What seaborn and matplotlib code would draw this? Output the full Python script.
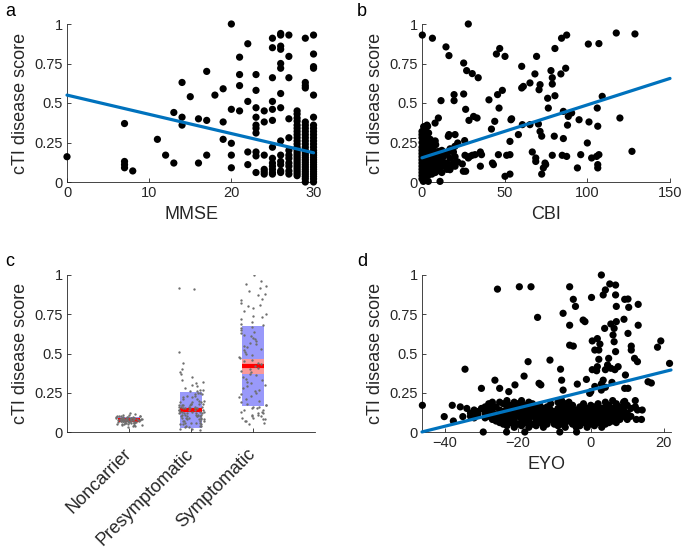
import numpy as np
import pandas as pd
import matplotlib
matplotlib.use("Agg")
import matplotlib.pyplot as plt
import seaborn as sns

# ---------------- data ----------------
# panel a: MMSE vs cTI disease score
mmse = [0, 7, 7, 7, 7, 8, 11, 12, 13, 13, 14, 14, 14, 15, 16, 16, 17, 17, 17, 18,
        19, 19, 19, 20, 20, 20, 20, 20, 21, 21, 21, 21, 22, 22, 22, 22,
        23, 23, 23, 23, 23, 23, 23, 23, 23, 23,
        24, 24, 24, 24, 24, 24,
        25, 25, 25, 25, 25, 25, 25, 25, 25, 25, 25, 25, 25,
        26, 26, 26, 26, 26, 26, 26, 26, 26, 26, 26, 26, 26, 26,
        27, 27, 27, 27, 27, 27, 27, 27, 27, 27, 27, 27,
        28, 28, 28, 28, 28, 28, 28, 28, 28, 28, 28, 28, 28, 28, 28, 28, 28, 28, 28, 28, 28, 28, 28, 28,
        29, 29, 29, 29, 29, 29, 29, 29, 29, 29, 29, 29, 29, 29, 29, 29, 29, 29, 29, 29, 29, 29, 29, 29, 29, 29, 29,
        30, 30, 30, 30, 30, 30, 30, 30, 30, 30, 30, 30, 30, 30, 30, 30, 30, 30, 30, 30, 30, 30, 30, 30, 30, 30, 30, 30]
cti_a = [0.16, 0.37, 0.13, 0.11, 0.09, 0.07, 0.27, 0.17, 0.44, 0.12, 0.63, 0.41, 0.36, 0.54, 0.40, 0.12, 0.70, 0.39, 0.17, 0.55,
         0.59, 0.38, 0.27, 1.00, 0.46, 0.245, 0.17, 0.09, 0.79, 0.68, 0.61, 0.45, 0.875, 0.51, 0.19, 0.11,
         0.68, 0.58, 0.47, 0.41, 0.36, 0.34, 0.31, 0.19, 0.165, 0.06,
         0.45, 0.38, 0.17, 0.08, 0.065, 0.05,
         0.91, 0.85, 0.66, 0.51, 0.46, 0.39, 0.22, 0.15, 0.12, 0.10, 0.08, 0.06, 0.05,
         0.94, 0.93, 0.86, 0.84, 0.75, 0.72, 0.56, 0.47, 0.26, 0.17, 0.13, 0.11, 0.07, 0.06,
         0.93, 0.795, 0.66, 0.40, 0.28, 0.20, 0.17, 0.15, 0.12, 0.10, 0.07, 0.05,
         0.45, 0.43, 0.405, 0.385, 0.36, 0.34, 0.32, 0.30, 0.28, 0.26, 0.24, 0.22, 0.205, 0.19, 0.175, 0.16, 0.145, 0.13, 0.115, 0.10, 0.085, 0.07, 0.055, 0.04,
         0.91, 0.63, 0.61, 0.595, 0.38, 0.36, 0.34, 0.32, 0.30, 0.28, 0.26, 0.24, 0.22, 0.20, 0.185, 0.17, 0.155, 0.14, 0.125, 0.11, 0.095, 0.08, 0.065, 0.05, 0.035, 0.02, 0.0,
         0.93, 0.81, 0.73, 0.72, 0.55, 0.41, 0.36, 0.34, 0.32, 0.30, 0.28, 0.26, 0.24, 0.22, 0.20, 0.185, 0.17, 0.155, 0.14, 0.125, 0.11, 0.095, 0.08, 0.065, 0.05, 0.035, 0.02, 0.0]
fit_a = [0.55, -0.01217]   # intercept, slope
fit_a_range = [0, 30]

# panel b: CBI vs cTI disease score
cbi = [0.2, 6.3, 28, 14.5, 16.3, 25.2, 27, 30.4, 34, 19.4, 19.4, 11.5, 25.2, 26.4, 28.4, 31.2, 33.3, 40.5,
       45, 47, 50.2, 45.7, 48.6, 46.6, 44, 42, 53.8, 54.2, 58.3, 60.7, 60.3, 61.3, 60.3, 65.3, 68.3, 69.3,
       71.4, 70.8, 70.4, 71.4, 72.4, 65.3, 76, 76.4, 78, 78.8, 78.8, 80.4, 80.4, 84.4, 87.5, 84, 86.9,
       85.5, 88.5, 90.5, 88, 80, 85.5, 95, 101, 106.3, 106, 100.6, 107, 109, 117.5, 128.8, 119.7, 127,
       100, 96, 94, 102.6, 105.6, 107, 106.3, 106.3, 84.8, 87.5, 78.8, 74.4, 74.8, 72.4, 73.4, 68.8, 68.8,
       66.7, 53.2, 53.2, 51.2, 53.2, 50.2, 43.2, 42.6, 46.2, 35.3, 36, 35.3, 32.1, 30.4, 29, 28, 26,
       26.4, 25, 24.4, 21.6, 21.6, 25.8, 19.9, 17.9, 15.9, 16.3, 15.9, 18.9, 17.9, 16.9, 10.3, 10.9,
       9.9, 7.9, 1.8, 3.4, 0.8, 2.8, 4.8, 8.3, 3.8, 0.8,
       0, 0, 0, 0, 0, 0, 0, 0, 0, 0, 0, 0, 0, 0, 0,
       1, 1, 1, 1, 1, 1, 1, 2, 2, 2, 2, 2, 2, 2, 3, 3, 3, 3, 3, 3, 3, 4, 4, 4, 4, 4, 4, 4,
       5, 5, 5, 5, 5, 6, 6, 6, 6, 6, 7, 7, 7, 7, 8, 8, 8, 8, 8, 9, 9, 9, 9, 10, 10, 10,
       12, 12, 12, 12, 13, 13, 15, 15, 15, 17, 17, 17, 19, 19, 20, 20, 20]
cti_b = [0.93, 0.91, 1.0, 0.855, 0.80, 0.753, 0.705, 0.686, 0.66, 0.553, 0.515, 0.515, 0.557, 0.46, 0.39, 0.415, 0.405, 0.52,
         0.81, 0.845, 0.795, 0.553, 0.58, 0.468, 0.384, 0.335, 0.394, 0.40, 0.30, 0.363, 0.595, 0.605, 0.732, 0.627, 0.684, 0.795,
         0.616, 0.584, 0.367, 0.32, 0.29, 0.363, 0.53, 0.468, 0.705, 0.66, 0.62, 0.546, 0.845, 0.91, 0.93, 0.684, 0.72,
         0.447, 0.415, 0.437, 0.36, 0.29, 0.275, 0.394, 0.38, 0.353, 0.468, 0.873, 0.876, 0.542, 0.943, 0.937, 0.405, 0.194,
         0.247, 0.173, 0.089, 0.152, 0.162, 0.173, 0.11, 0.089, 0.169, 0.162, 0.169, 0.12, 0.11, 0.05, 0.089, 0.152, 0.13,
         0.19, 0.257, 0.173, 0.169, 0.05, 0.036, 0.11, 0.12, 0.173, 0.19, 0.173, 0.10, 0.173, 0.169, 0.162, 0.152, 0.169,
         0.068, 0.068, 0.114, 0.127, 0.247, 0.262, 0.226, 0.198, 0.19, 0.30, 0.289, 0.11, 0.10, 0.078, 0.194, 0.004,
         0.405, 0.373, 0.342, 0.352, 0.31, 0.283, 0.257, 0.236, 0.004, 0.004,
         0.32, 0.30, 0.28, 0.25, 0.22, 0.20, 0.18, 0.16, 0.14, 0.12, 0.10, 0.08, 0.06, 0.04, 0.02,
         0.35, 0.27, 0.21, 0.17, 0.13, 0.09, 0.05, 0.33, 0.24, 0.19, 0.15, 0.11, 0.07, 0.03, 0.36, 0.29, 0.22, 0.18, 0.14, 0.10, 0.06, 0.31, 0.25, 0.20, 0.16, 0.12, 0.08, 0.045,
         0.27, 0.19, 0.15, 0.11, 0.07, 0.23, 0.17, 0.13, 0.09, 0.05, 0.20, 0.16, 0.12, 0.08, 0.26, 0.18, 0.14, 0.10, 0.06, 0.19, 0.15, 0.11, 0.07, 0.17, 0.13, 0.09,
         0.20, 0.14, 0.10, 0.06, 0.16, 0.11, 0.18, 0.12, 0.08, 0.21, 0.15, 0.09, 0.19, 0.12, 0.30, 0.16, 0.10]
fit_b = [0.153, 0.00335]
fit_b_range = [0, 150]

# panel c: groups
groups = ["Noncarrier", "Presymptomatic", "Symptomatic"]
noncarrier = [0.12, 0.115, 0.11, 0.11, 0.105, 0.105, 0.10, 0.10, 0.10, 0.098, 0.096, 0.095, 0.094, 0.093, 0.092, 0.091,
              0.09, 0.09, 0.089, 0.088, 0.087, 0.086, 0.085, 0.085, 0.084, 0.083, 0.082, 0.082, 0.081, 0.08, 0.08, 0.08,
              0.079, 0.078, 0.078, 0.077, 0.076, 0.076, 0.075, 0.075, 0.074, 0.073, 0.072, 0.072, 0.071, 0.07, 0.07, 0.07,
              0.069, 0.068, 0.068, 0.067, 0.066, 0.065, 0.065, 0.064, 0.063, 0.062, 0.061, 0.06, 0.06, 0.058, 0.057, 0.055,
              0.054, 0.052, 0.05, 0.048, 0.046, 0.044, 0.042, 0.04, 0.038, 0.035]
presym = [0.91, 0.92, 0.51, 0.44, 0.40, 0.38, 0.37, 0.35, 0.33, 0.32, 0.31, 0.30, 0.29, 0.28, 0.27, 0.27, 0.26, 0.26, 0.25,
          0.25, 0.24, 0.24, 0.23, 0.23, 0.22, 0.22, 0.21, 0.21, 0.20, 0.20, 0.19, 0.19, 0.19, 0.18, 0.18, 0.18, 0.18, 0.17,
          0.17, 0.17, 0.17, 0.16, 0.16, 0.16, 0.16, 0.16, 0.15, 0.15, 0.15, 0.15, 0.15, 0.14, 0.14, 0.14, 0.14, 0.14, 0.13,
          0.13, 0.13, 0.13, 0.13, 0.12, 0.12, 0.12, 0.12, 0.12, 0.11, 0.11, 0.11, 0.11, 0.11, 0.10, 0.10, 0.10, 0.10, 0.10,
          0.09, 0.09, 0.09, 0.09, 0.08, 0.08, 0.08, 0.08, 0.07, 0.07, 0.07, 0.07, 0.06, 0.06, 0.06, 0.06, 0.05, 0.05, 0.05,
          0.04, 0.04, 0.04, 0.03, 0.03, 0.02, 0.02, 0.01]
sym = [1.0, 0.96, 0.94, 0.93, 0.92, 0.90, 0.88, 0.87, 0.85, 0.84, 0.82, 0.81, 0.80, 0.79, 0.77, 0.75, 0.74, 0.73, 0.72, 0.70,
       0.69, 0.68, 0.67, 0.66, 0.65, 0.64, 0.63, 0.62, 0.61, 0.60, 0.59, 0.58, 0.57, 0.56, 0.55, 0.54, 0.53, 0.52, 0.51, 0.50,
       0.49, 0.48, 0.47, 0.46, 0.45, 0.44, 0.43, 0.42, 0.41, 0.40, 0.39, 0.38, 0.37, 0.36, 0.35, 0.34, 0.33, 0.32, 0.31, 0.30,
       0.29, 0.28, 0.27, 0.26, 0.25, 0.24, 0.23, 0.22, 0.21, 0.20, 0.19, 0.18, 0.17, 0.17, 0.16, 0.16, 0.15, 0.15, 0.14, 0.14,
       0.13, 0.13, 0.12, 0.12, 0.11, 0.11, 0.10, 0.10, 0.09, 0.09, 0.08, 0.08, 0.07, 0.07, 0.06, 0.05]
group_mean = [0.078, 0.14, 0.42]
group_sd = [0.015, 0.115, 0.2575]
group_ci = [0.003, 0.012, 0.048]

# panel d: EYO vs cTI disease score
eyo = [-46.2, -40.2, -38, -37.7, -35.8, -35.1, -34, -34.5, -31.3, -30, -29.5, -30, -26.3, -25.6, -25, -23.1, -22.5, -20.8,
       -19.6, -18.1, -18.3, -17.2, -16.4, -14.6, -14.2, -13.7, -11.2, -11.2, -8.5, -8.3, -8, -7.6, -7.6, -5.8, -5.8, -5.8,
       -4.8, -4.8, -4.2, -3.9, -3.7, -2.1, -1.6, -1.2, -0.3, 0.2, 0.4, 0.4, 1.1, 1.8, 2.5, 2.2, 2.2, 1.8, 1.6, 2.9, 3.4, 4,
       5.2, 6.8, 6.8, 7, 7, 6.4, 6.1, 6.4, 6.8, 3.8, 5.5, 4.9, 4.6, 4, 5.5, 6.6, 7.5, 5.8, 3.4, 2.9, 2.9, 4, 0, 1.1,
       9.3, 10.2, 9.1, 10.2, 10.4, 13, 13, 11.1, 11.1, 12, 12.8, 9.5, 10.2, 9.3, 12.2, 12.2, 12.8, 14.1, 13.9, 12.5,
       15.7, 16.6, 18.3, 19.2, 21.6, 9.3, 9.3,
       -33, -33, -32, -32, -31, -31, -29, -29, -29, -28, -28, -28, -27, -27, -27, -27, -26, -26, -26,
       -25, -25, -25, -25, -24, -24, -24, -24, -23, -23, -23, -23, -23, -22, -22, -22, -22,
       -21, -21, -21, -21, -21, -20, -20, -20, -20, -19, -19, -19, -19, -19, -18, -18, -18, -18,
       -17, -17, -17, -17, -17, -16, -16, -16, -16, -15, -15, -15, -15, -14, -14, -14, -14,
       -13, -13, -13, -13, -12, -12, -12, -12, -11, -11, -11, -10, -10, -10,
       -9, -9, -9, -9, -9, -8, -8, -8, -8, -8, -7, -7, -7, -7, -7, -6, -6, -6, -6, -5, -5, -5, -5,
       -4, -4, -4, -4, -3, -3, -3, -3, -2, -2, -2, -2, -1, -1, -1, -1, 0, 0, 0, 0, 1, 1, 1, 1,
       2, 2, 2, 2, 3, 3, 3, 3, 4, 4, 4, 4, 4, 5, 5, 5, 5, 6, 6, 6, 6, 7, 7, 7, 7, 8, 8, 8,
       9, 9, 9, 10, 10, 10, 11, 11]
cti_d = [0.17, 0.098, 0.17, 0.07, 0.16, 0.098, 0.15, 0.40, 0.12, 0.278, 0.0, 0.15, 0.33, 0.91, 0.278, 0.0, 0.257, 0.30,
         0.925, 0.0, 0.356, 0.448, 0.925, 0.73, 0.31, 0.30, 0.458, 0.076, 0.0, 0.40, 0.33, 0.756, 0.267, 0.925, 0.68, 0.553,
         0.547, 0.845, 0.80, 0.0, 0.305, 0.713, 0.703, 0.335, 0.246, 0.857, 0.58, 0.397, 0.522, 0.595, 0.56, 0.522, 0.463,
         0.416, 0.39, 1.0, 0.873, 0.905, 0.943, 0.936, 0.873, 0.80, 0.703, 0.66, 0.618, 0.575, 0.512, 0.66, 0.688, 0.469,
         0.427, 0.397, 0.406, 0.397, 0.416, 0.316, 0.33, 0.267, 0.306, 0.285, 0.257, 0.29,
         0.845, 0.847, 0.718, 0.628, 0.794, 0.813, 0.68, 0.547, 0.522, 0.469, 0.448, 0.363, 0.278, 0.278, 0.2, 0.161,
         0.14, 0.14, 0.08, 0.08, 0.32, 0.312, 0.54, 0.58, 0.437, 0.195, 0.17,
         0.12, 0.10, 0.14, 0.09, 0.11, 0.13, 0.16, 0.12, 0.09, 0.18, 0.14, 0.10, 0.17, 0.13, 0.08, 0.19, 0.16, 0.11, 0.07,
         0.19, 0.14, 0.10, 0.06, 0.18, 0.13, 0.09, 0.05, 0.20, 0.16, 0.12, 0.08, 0.04, 0.17, 0.13, 0.10, 0.06,
         0.19, 0.15, 0.11, 0.07, 0.03, 0.18, 0.14, 0.10, 0.05, 0.20, 0.16, 0.12, 0.08, 0.04, 0.17, 0.13, 0.09, 0.06,
         0.19, 0.15, 0.11, 0.07, 0.03, 0.18, 0.14, 0.10, 0.05, 0.16, 0.12, 0.08, 0.04, 0.17, 0.13, 0.09, 0.06,
         0.15, 0.11, 0.07, 0.03, 0.16, 0.12, 0.08, 0.05, 0.18, 0.14, 0.10, 0.13, 0.09, 0.05,
         0.19, 0.15, 0.11, 0.07, 0.04, 0.20, 0.16, 0.12, 0.08, 0.05, 0.18, 0.14, 0.10, 0.06, 0.03, 0.19, 0.15, 0.11, 0.07,
         0.17, 0.13, 0.09, 0.05,
         0.14, 0.10, 0.06, 0.03, 0.16, 0.12, 0.08, 0.04, 0.18, 0.14, 0.10, 0.06, 0.15, 0.11, 0.07, 0.03, 0.17, 0.13, 0.09,
         0.05, 0.16, 0.12, 0.08, 0.04,
         0.18, 0.14, 0.10, 0.06, 0.15, 0.11, 0.07, 0.03, 0.19, 0.16, 0.12, 0.08, 0.05, 0.17, 0.13, 0.09, 0.06, 0.20, 0.15,
         0.11, 0.07, 0.18, 0.14, 0.10, 0.06, 0.16, 0.12, 0.08,
         0.19, 0.14, 0.10, 0.17, 0.12, 0.08, 0.15, 0.10]
fit_d = [0.268, 0.00578]
fit_d_range = [-46.3, 22]

yticks = [0, 0.25, 0.5, 0.75, 1]
ytick_labels = ["0", "0.25", "0.5", "0.75", "1"]

# ---------------- style ----------------
sns.set_style("ticks")
plt.rcParams["font.family"] = ["Liberation Sans", "DejaVu Sans"]
AX_COL = "#262626"
LINE_BLUE = "#0072BD"

fig = plt.figure(figsize=(6.82, 5.49), dpi=100)
W, H = 682, 549


def add_axes(l, r, t, b):
    return fig.add_axes([l / W, 1 - b / H, (r - l) / W, (b - t) / H])


ax_a = add_axes(67, 316, 24, 182)
ax_b = add_axes(422, 670, 24, 182)
ax_c = add_axes(67, 315, 275, 432)
ax_d = add_axes(422, 671, 275, 432)


def style(ax):
    sns.despine(ax=ax)
    for s in ("left", "bottom"):
        ax.spines[s].set_color(AX_COL)
        ax.spines[s].set_linewidth(0.6)
    ax.tick_params(direction="in", length=3, width=0.6, color=AX_COL,
                   labelsize=10.5, labelcolor=AX_COL, pad=3)
    ax.set_ylim(0, 1)
    ax.set_yticks(yticks)
    ax.set_yticklabels(ytick_labels)
    ax.set_ylabel("cTI disease score", fontsize=13, color=AX_COL, labelpad=4)
    ax.set_facecolor("none")


def scatter_panel(ax, x, y, fit, fit_range, xlim, xticks, xlabel):
    sns.scatterplot(x=x, y=y, ax=ax, color="black", s=27, edgecolor="none",
                    linewidth=0, clip_on=False, zorder=3, legend=False)
    xr = np.array(fit_range)
    sns.lineplot(x=xr, y=fit[0] + fit[1] * xr, ax=ax, color=LINE_BLUE, lw=2.3,
                 zorder=4, clip_on=False)
    ax.set_xlim(*xlim)
    ax.set_xticks(xticks)
    ax.set_xlabel(xlabel, fontsize=13, color=AX_COL, labelpad=4)
    style(ax)


scatter_panel(ax_a, mmse, cti_a, fit_a, fit_a_range, (0, 30.3), [0, 10, 20, 30], "MMSE")
scatter_panel(ax_b, cbi, cti_b, fit_b, fit_b_range, (0, 150), [0, 50, 100, 150], "CBI")
scatter_panel(ax_d, eyo, cti_d, fit_d, fit_d_range, (-46.3, 22), [-40, -20, 0, 20], "EYO")
ax_d.set_xticklabels(["\u221240", "\u221220", "0", "20"])

# panel c
df_c = pd.DataFrame({
    "group": ["Noncarrier"] * len(noncarrier) + ["Presymptomatic"] * len(presym) + ["Symptomatic"] * len(sym),
    "score": noncarrier + presym + sym,
})
pos = np.arange(len(groups))
m = np.array(group_mean)
sd = np.array(group_sd)
ci = np.array(group_ci)
ax_c.bar(pos, 2 * sd, bottom=m - sd, width=0.34, color=(0.6, 0.6, 0.98), zorder=1, linewidth=0)
ax_c.bar(pos, 2 * ci, bottom=m - ci, width=0.34, color=(0.98, 0.6, 0.6), zorder=1.5, linewidth=0)
ax_c.hlines(m, pos - 0.17, pos + 0.17, color="red", lw=3, zorder=2)
np.random.seed(3)
sns.stripplot(data=df_c, x="group", y="score", order=groups, ax=ax_c, color="#6e6e6e",
              size=1.7, jitter=0.22, zorder=3, linewidth=0)
ax_c.set_xlim(-1, 3)
ax_c.set_xticks(pos)
ax_c.set_xticklabels(groups, rotation=45, ha="right", va="center", rotation_mode="anchor")
ax_c.set_xlabel("")
style(ax_c)
ax_c.tick_params(axis="x", labelsize=13, pad=14)

# panel letters
for txt, x, y in [("a", 5, 12), ("b", 357, 12), ("c", 5, 262), ("d", 357, 262)]:
    fig.text(x / W, 1 - y / H, txt, fontsize=13, ha="left", va="center", color="black")

fig.savefig("out.png", dpi=100)
